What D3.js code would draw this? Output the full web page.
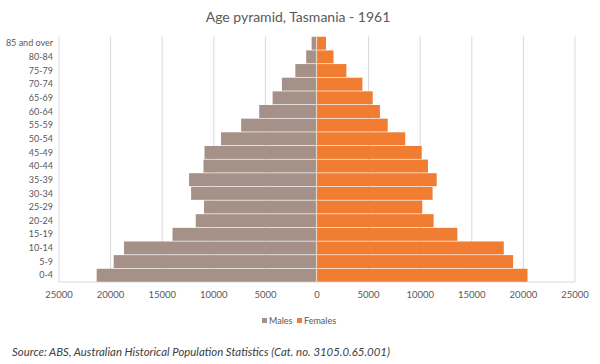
<!DOCTYPE html>
<html>
<head>
<meta charset="utf-8">
<script src="https://cdn.jsdelivr.net/npm/d3@7"></script>
<style>
  body { margin: 0; background: #fff; }
  text { font-family: Lato, "Noto Sans", sans-serif; }
</style>
</head>
<body>
<script>
const ageGroups = ['0-4', '5-9', '10-14', '15-19', '20-24', '25-29', '30-34', '35-39', '40-44',
  '45-49', '50-54', '55-59', '60-64', '65-69', '70-74', '75-79', '80-84', '85 and over'];
const males = [21350, 19700, 18700, 14000, 11750, 10950, 12200, 12400, 11000,
  10900, 9300, 7350, 5600, 4300, 3400, 2100, 1050, 520];
const females = [20400, 19000, 18100, 13600, 11300, 10200, 11200, 11600, 10750,
  10150, 8550, 6850, 6100, 5400, 4400, 2850, 1600, 870];
const ticks = [-25000, -20000, -15000, -10000, -5000, 0, 5000, 10000, 15000, 20000, 25000];

const width = 600,
  height = 364;

const svg = d3
  .select('body')
  .append('svg')
  .attr('width', width)
  .attr('height', height);

const x = d3.scaleLinear().domain([-25000, 25000]).range([59, 575]);
const y = d3
  .scaleBand()
  .domain(ageGroups)
  .range([282, 36.5])
  .paddingInner(0.05)
  .paddingOuter(0.02);

// gridlines
svg
  .selectAll('.grid')
  .data(ticks)
  .enter()
  .append('line')
  .attr('x1', d => x(d))
  .attr('x2', d => x(d))
  .attr('y1', 36.5)
  .attr('y2', 282)
  .style('stroke', '#d9d9d9')
  .style('stroke-width', 1);

svg
  .append('line')
  .attr('x1', 59)
  .attr('x2', 575)
  .attr('y1', 282)
  .attr('y2', 282)
  .style('stroke', '#d9d9d9');

svg
  .selectAll('.male')
  .data(males)
  .enter()
  .append('rect')
  .attr('x', d => x(-d))
  .attr('width', d => x(0) - x(-d))
  .attr('y', (d, i) => y(ageGroups[i]))
  .attr('height', y.bandwidth())
  .style('fill', '#a69189');

svg
  .selectAll('.female')
  .data(females)
  .enter()
  .append('rect')
  .attr('x', x(0))
  .attr('width', d => x(d) - x(0))
  .attr('y', (d, i) => y(ageGroups[i]))
  .attr('height', y.bandwidth())
  .style('fill', '#f07d32');

// centre axis line
svg
  .append('line')
  .attr('x1', x(0) - 0.5)
  .attr('x2', x(0) - 0.5)
  .attr('y1', 36.5)
  .attr('y2', 282)
  .style('stroke', '#e8d4c4')
  .style('stroke-width', 1.2);

// category labels
svg
  .selectAll('.cat')
  .data(ageGroups)
  .enter()
  .append('text')
  .attr('x', 53)
  .attr('y', d => y(d) + y.bandwidth() / 2)
  .attr('dy', '0.35em')
  .attr('text-anchor', 'end')
  .style('font-size', '9px')
  .style('fill', '#595959')
  .text(d => d);

// x tick labels
svg
  .selectAll('.tick')
  .data(ticks)
  .enter()
  .append('text')
  .attr('x', d => x(d))
  .attr('y', 295)
  .attr('dy', '0.35em')
  .attr('text-anchor', 'middle')
  .style('font-size', '9.5px')
  .style('fill', '#595959')
  .text(d => Math.abs(d));

svg
  .append('text')
  .attr('x', 298)
  .attr('y', 17)
  .attr('dy', '0.35em')
  .attr('text-anchor', 'middle')
  .style('font-size', '14px')
  .style('fill', '#595959')
  .text('Age pyramid, Tasmania - 1961');

// legend
const legend = [['Males', '#a69189', 262], ['Females', '#f07d32', 297]];
legend.forEach(l => {
  svg
    .append('rect')
    .attr('x', l[2])
    .attr('y', 318)
    .attr('width', 5)
    .attr('height', 5)
    .style('fill', l[1]);
  svg
    .append('text')
    .attr('x', l[2] + 7)
    .attr('y', 321)
    .attr('dy', '0.35em')
    .style('font-size', '9px')
    .style('fill', '#595959')
    .text(l[0]);
});

svg
  .append('text')
  .attr('x', 12)
  .attr('y', 352)
  .attr('dy', '0.35em')
  .style('font-size', '11.4px')
  .style('font-style', 'italic')
  .style('fill', '#404040')
  .text('Source:  ABS, Australian Historical Population Statistics (Cat. no. 3105.0.65.001)');
</script>
</body>
</html>
